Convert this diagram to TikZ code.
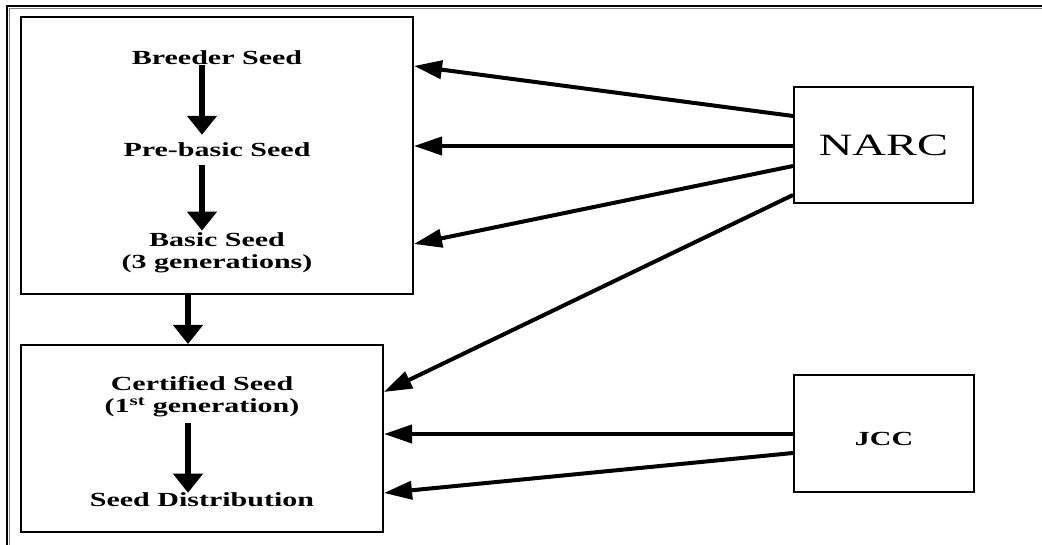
\documentclass[tikz,border=0pt]{standalone}
\usepackage{fontspec}
\setmainfont{Liberation Serif}[FakeStretch=1.5]
\usetikzlibrary{arrows.meta}
\begin{document}
\begin{tikzpicture}[x=1pt,y=-1pt,
  box/.style={draw=black,line width=2pt,inner sep=0pt},
  lbl/.style={font=\bfseries\fontsize{20}{22}\selectfont,inner sep=0pt,align=center},
  vflow/.style={line width=6pt,-{Triangle[length=19pt,width=29pt]}},
  conn/.style={line width=4pt,-{Triangle[length=28pt,width=18pt]}}]
\useasboundingbox (0,0) rectangle (1042,545);
% outer frame (top and left only)
\draw[line width=2pt] (7,545) -- (7,6) -- (1042,6);
\draw[line width=1pt,gray] (9.5,545) -- (9.5,8.5) -- (1042,8.5);
% boxes
\node[box,minimum width=392pt,minimum height=277pt] (box1) at (217,155.5) {};
\node[box,minimum width=362pt,minimum height=187pt] (box2) at (202,438.5) {};
\node[box,minimum width=179pt,minimum height=116pt,font=\fontsize{31}{34}\selectfont] (narc) at (883.5,145) {NARC};
\node[box,minimum width=180pt,minimum height=117pt,text height=24pt,text depth=0pt,font=\bfseries\fontsize{20}{22}\selectfont] (jcc) at (884,433.5) {JCC};
% texts
\node[lbl] (breeder) at (217,58) {Breeder Seed};
\node[lbl] (prebasic) at (217,150) {Pre-basic Seed};
\node[lbl] (basic) at (217,253) {Basic Seed\\(3 generations)};
\node[lbl] (certified) at (202,397) {Certified Seed\\(1\textsuperscript{st} generation)};
\node[lbl] (distrib) at (202,500) {Seed Distribution};
% vertical flow arrows
\draw[vflow,shorten >=8pt] ([xshift=-15pt]breeder.south) -- ([xshift=-15pt]prebasic.north);
\draw[vflow,shorten <=8pt,shorten >=2pt] ([xshift=-15pt]prebasic.south) -- ([xshift=-15pt]basic.north);
\draw[vflow] ([xshift=-29pt]box1.south) -- ([xshift=-14pt]box2.north);
\draw[vflow,shorten <=6pt] ([xshift=-14pt]certified.south) -- ([xshift=-14pt]distrib.north);
% connectors
\draw[conn] (narc.west |- 0,116) -- (box1.east |- 0,66);
\draw[conn] (narc.west |- 0,146) -- (box1.east |- 0,146);
\draw[conn] (narc.west |- 0,166) -- (box1.east |- 0,244);
\draw[conn] (narc.west |- 0,195) -- (box2.east |- 0,392);
\draw[conn] (jcc.west |- 0,434) -- (box2.east |- 0,434);
\draw[conn] (jcc.west |- 0,453) -- (box2.east |- 0,493);
\end{tikzpicture}
\end{document}
